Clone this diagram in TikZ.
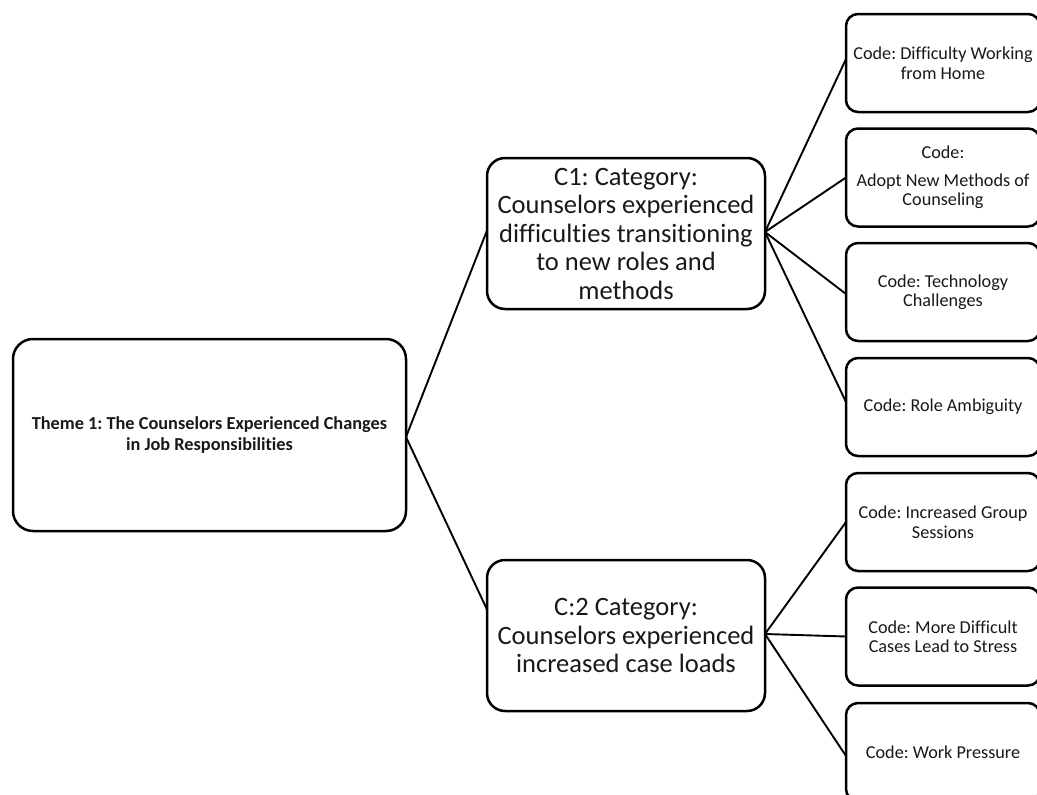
\documentclass[tikz,border=0pt]{standalone}
\usepackage{fontspec}
\setmainfont{Carlito}[Ligatures=CommonOff]
\frenchspacing
\begin{document}
\begin{tikzpicture}[x=1pt,y=-1pt,
  box/.style={draw=black, line width=2.5pt, rounded corners=#1, align=center,
    inner sep=0pt, outer sep=0pt, text=black!90},
  themebox/.style={box=20pt, minimum width=393pt, minimum height=192pt,
    font=\bfseries\fontsize{18.3}{20.5}\selectfont},
  catbox/.style={box=18pt, minimum width=278pt, minimum height=151pt,
    font=\fontsize{26.5}{28.5}\selectfont},
  codebox/.style={box=12pt, minimum width=194pt, minimum height=98pt,
    font=\fontsize{18.2}{19.5}\selectfont},
  link/.style={draw=black, line width=1.9pt}]
\useasboundingbox (0,0) rectangle (1037,795);
\clip (0,0) rectangle (1037,795);

% theme
\node[themebox] (theme) at (209.5,435)
  {Theme 1: The Counselors Experienced Changes\\in Job Responsibilities};

% categories
\node[catbox] (c1) at (626,233.5)
  {C1: Category:\\Counselors experienced\\difficulties transitioning\\to new roles and\\methods};
\node[catbox] (c2) at (626,635.5)
  {C:2 Category:\\Counselors experienced\\increased case loads};

% codes
\node[codebox] (k1) at (943,63)    {Code: Difficulty Working\\from Home};
\node[codebox] (k2) at (943,177.5) {Code:\\[8pt]Adopt New Methods of\\Counseling};
\node[codebox] (k3) at (943,292)   {Code: Technology\\Challenges};
\node[codebox] (k4) at (943,407)   {Code: Role Ambiguity};
\node[codebox] (k5) at (943,522)   {Code: Increased Group\\Sessions};
\node[codebox] (k6) at (943,636.5) {Code: More Difficult\\Cases Lead to Stress};
\node[codebox] (k7) at (943,752)   {Code: Work Pressure};

% connectors
\draw[link] ([yshift=-2pt]theme.east) -- ([yshift=3pt]c1.west);
\draw[link] ([yshift=-2pt]theme.east) -- ([yshift=26pt]c2.west);
\draw[link] ([yshift=1.5pt]c1.east) -- ([yshift=4pt]k1.west);
\draw[link] ([yshift=1.5pt]c1.east) -- (k2.west);
\draw[link] ([yshift=1.5pt]c1.east) -- ([yshift=-2pt]k3.west);
\draw[link] ([yshift=1.5pt]c1.east) -- ([yshift=5pt]k4.west);
\draw[link] ([yshift=1.5pt]c2.east) -- (k5.west);
\draw[link] ([yshift=1.5pt]c2.east) -- (k6.west);
\draw[link] ([yshift=1.5pt]c2.east) -- ([yshift=-4pt]k7.west);
\end{tikzpicture}
\end{document}
